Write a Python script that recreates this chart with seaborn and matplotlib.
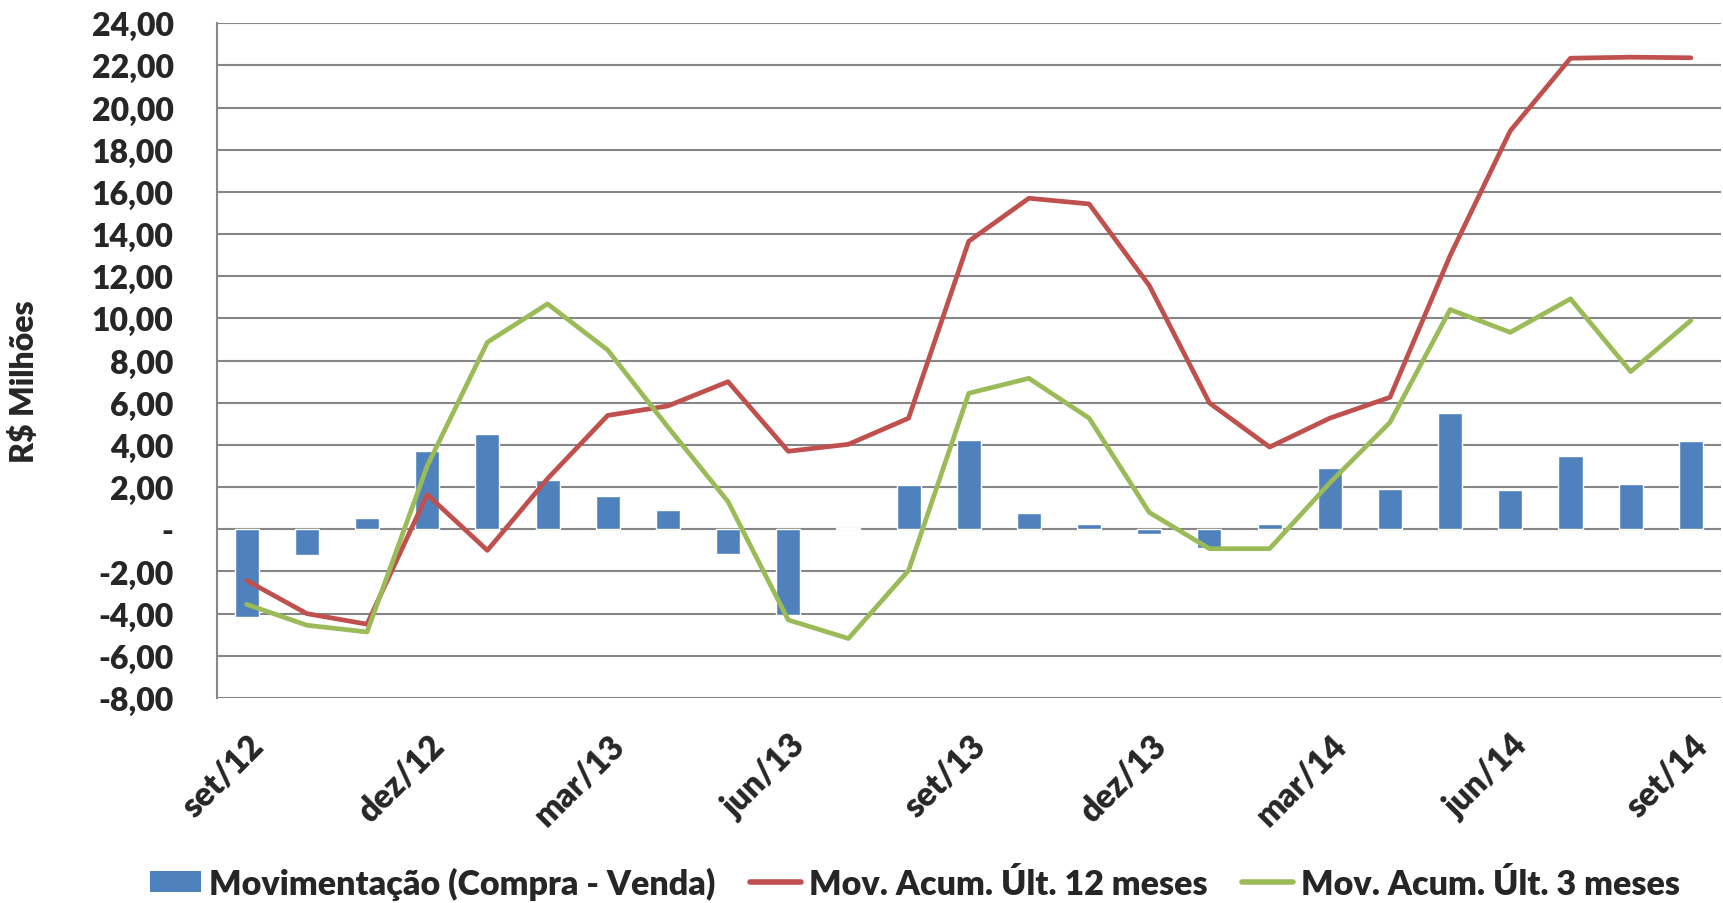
"""
Movimentação mensal (compra - venda) e acumulados - recriação do gráfico
"""

import numpy as np
import pandas as pd
import matplotlib
matplotlib.use('Agg')
import matplotlib.pyplot as plt
from matplotlib.ticker import FuncFormatter
from matplotlib.patches import Patch
from matplotlib.lines import Line2D
import seaborn as sns

# dados (R$ milhões)
meses = ['set/12', 'out/12', 'nov/12', 'dez/12', 'jan/13', 'fev/13', 'mar/13', 'abr/13',
         'mai/13', 'jun/13', 'jul/13', 'ago/13', 'set/13', 'out/13', 'nov/13', 'dez/13',
         'jan/14', 'fev/14', 'mar/14', 'abr/14', 'mai/14', 'jun/14', 'jul/14', 'ago/14', 'set/14']

movimentacao = [-4.16, -1.23, 0.52, 3.69, 4.54, 2.33, 1.56, 0.90, -1.17, -4.08, 0.06, 2.09,
                4.22, 0.76, 0.24, -0.22, -0.91, 0.25, 2.91, 1.92, 5.52, 1.86, 3.46, 2.14, 4.19]

acum_12m = [-2.43, -4.00, -4.50, 1.65, -1.00, 2.40, 5.40, 5.85, 7.00, 3.70, 4.03, 5.27,
            13.66, 15.70, 15.43, 11.56, 5.99, 3.90, 5.27, 6.26, 12.98, 18.90, 22.34, 22.39, 22.36]

acum_3m = [-3.56, -4.55, -4.87, 3.00, 8.87, 10.69, 8.50, 4.85, 1.31, -4.30, -5.18, -1.95,
           6.45, 7.16, 5.27, 0.80, -0.92, -0.92, 2.20, 5.07, 10.42, 9.34, 10.93, 7.48, 9.90]

rotulos_x = ['set/12', 'dez/12', 'mar/13', 'jun/13', 'set/13', 'dez/13', 'mar/14', 'jun/14', 'set/14']

AZUL = '#4F81BD'
VERMELHO = '#C0504D'
VERDE = '#9BBB59'
CINZA = '#868686'
FS = 23
PESO = 'heavy'

sns.set_style('white')
plt.rcParams['font.family'] = ['Lato', 'DejaVu Sans']
plt.rcParams['font.weight'] = PESO

df = pd.DataFrame({'mes': meses, 'pos': np.arange(len(meses)),
                   'mov': movimentacao, 'a12': acum_12m, 'a3': acum_3m})

fig, ax = plt.subplots(figsize=(17.23, 9.04), dpi=100)
fig.subplots_adjust(left=0.1257, right=0.9988, top=0.9732, bottom=0.2268)

sns.barplot(data=df, x='mes', y='mov', order=meses, color=AZUL, width=0.4,
            saturation=1, ax=ax, zorder=2)
sns.lineplot(data=df, x='pos', y='a12', color=VERMELHO, linewidth=3.4, ax=ax, zorder=3)
sns.lineplot(data=df, x='pos', y='a3', color=VERDE, linewidth=3.4, ax=ax, zorder=4)

ax.set_xlim(-0.5, len(meses) - 0.5)
ax.set_ylim(-8, 24)
ax.set_yticks(np.arange(-8, 25, 2))


def fmt(v, pos):
    if abs(v) < 1e-9:
        return '-'
    return f'{v:.2f}'.replace('.', ',')


ax.yaxis.set_major_formatter(FuncFormatter(fmt))
ax.grid(axis='y', color=CINZA, linewidth=1.5, zorder=0)
ax.set_axisbelow(True)

for s in ['top', 'right', 'bottom']:
    ax.spines[s].set_visible(False)
ax.spines['left'].set_color(CINZA)
ax.spines['left'].set_linewidth(1.5)

ax.tick_params(axis='y', length=7, width=1.5, color=CINZA, pad=24, labelsize=FS)
ax.tick_params(axis='x', length=0, pad=22, labelsize=24)

ax.set_xticks([meses.index(m) for m in rotulos_x])
ax.set_xticklabels(rotulos_x, rotation=45, ha='right', rotation_mode='anchor',
                   fontweight=PESO)
for t in ax.get_yticklabels():
    t.set_fontweight(PESO)

ax.set_xlabel('')
ax.set_ylabel('R$ Milhões', fontsize=FS, fontweight=PESO)
ax.yaxis.set_label_coords(-0.118, 0.47)

handles = [Patch(facecolor=AZUL, edgecolor='none'),
           Line2D([0], [0], color=VERMELHO, linewidth=4),
           Line2D([0], [0], color=VERDE, linewidth=4)]
labels = ['Movimentação (Compra - Venda)', 'Mov. Acum. Últ. 12 meses', 'Mov. Acum. Últ. 3 meses']
fig.legend(handles, labels, loc='center', bbox_to_anchor=(0.531, 0.022), ncol=3,
           frameon=False, prop={'size': 24.5, 'weight': PESO},
           handlelength=1.5, handleheight=0.6, handletextpad=0.25, columnspacing=1.0)

plt.savefig('out.png', dpi=100)
plt.close()
